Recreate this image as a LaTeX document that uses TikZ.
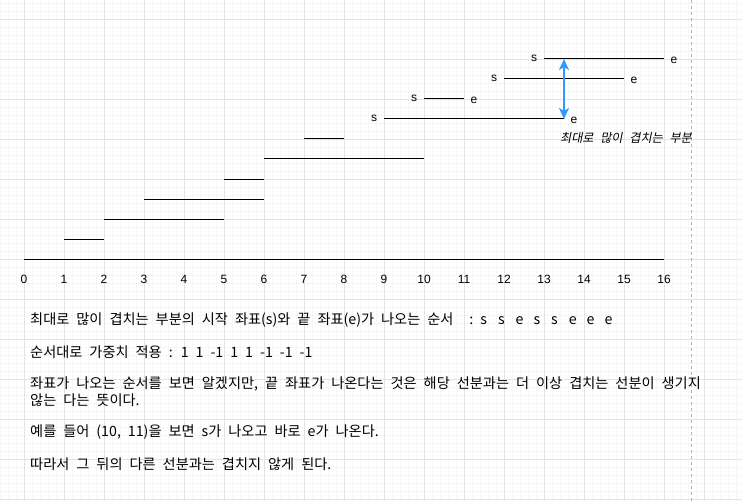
\documentclass[tikz,border=0pt]{standalone}
\usepackage{fontspec}
\setmainfont{Liberation Sans}
\newfontfamily\kr[WordSpace=2.2]{Noto Sans CJK KR}
\newfontfamily\krslant[FakeSlant=0.2, WordSpace=2.4]{Noto Sans CJK KR}
\usetikzlibrary{arrows.meta}

\definecolor{arrowblue}{HTML}{3399FF}

\begin{document}
\begin{tikzpicture}[x=40pt, y=20pt,
	every node/.style={font=\fontsize{12}{14}\selectfont, inner sep=0pt},
	seg/.style={line width=1pt},
	endlbl/.style={anchor=center},
	para/.style={anchor=west, font=\kr\fontsize{14.2}{16}\selectfont},
	>={Stealth[length=11pt, width=10pt, inset=3pt]}]
	\useasboundingbox (-24pt,-242pt) rectangle (718pt,259pt);
	% background grid
	\draw[gray!7, line width=0.6pt] (-24pt,-242pt) grid[step=8pt] (718pt,259pt);
	\draw[gray!22, line width=0.8pt] (-24pt,-242pt) grid[step=40pt] (718pt,259pt);
	\draw[gray!60, dashed, dash pattern=on 3pt off 3pt, line width=0.8pt] (667.7pt,259pt) -- (667.7pt,-242pt);
	% axis
	\draw[seg] (0,0) -- (16,0);
	\foreach \k in {0,...,16}
		\node (t\k) at (\k,-1) {\k};
	% segments
	\foreach \a/\b/\l in {1/2/1, 2/5/2, 3/6/3, 5/6/4, 6/10/5, 7/8/6}
		\draw[seg] (\a,\l) -- (\b,\l);
	\foreach \a/\b/\l/\n in {9/13.5/7/p, 10/11/8/q, 12/15/9/r, 13/16/10/u} {
		\draw[seg] (\a,\l) -- (\b,\l);
		\node[endlbl] (s\n) at (\a-0.25,\l+0.05) {s};
		\node[endlbl] (e\n) at (\b+0.25,\l-0.05) {e};
	}
	% overlap marker
	\coordinate (top) at (13.5,10);
	\coordinate (bot) at (13.5,7);
	\draw[<->, arrowblue, line width=2pt] (top) -- (bot);
	\node[font=\krslant\fontsize{12.2}{14}\selectfont] (most) at (15.05,6.05) {최대로 많이 겹치는 부분};
	% explanation
	\node[para] (l1) at (6pt,-61pt) {최대로 많이 겹치는 부분의 시작 좌표(s)와 끝 좌표(e)가 나오는 순서\hspace{16pt}:\hspace{7pt}s\hspace{11pt}s\hspace{11pt}e\hspace{10pt}s\hspace{11pt}s\hspace{11pt}e\hspace{10pt}e\hspace{10pt}e};
	\node[para] (l2) at (6pt,-93pt) {순서대로 가중치 적용 : 1 1 -1 1 1 -1 -1 -1};
	\node[para] (l3) at (6pt,-125pt) {좌표가 나오는 순서를 보면 알겠지만, 끝 좌표가 나온다는 것은 해당 선분과는 더 이상 겹치는 선분이 생기지};
	\node[para] (l4) at (6pt,-141pt) {않는 다는 뜻이다.};
	\node[para] (l5) at (6pt,-173pt) {예를 들어 (10, 11)을 보면 s가 나오고 바로 e가 나온다.};
	\node[para] (l6) at (6pt,-205pt) {따라서 그 뒤의 다른 선분과는 겹치지 않게 된다.};
\end{tikzpicture}
\end{document}
